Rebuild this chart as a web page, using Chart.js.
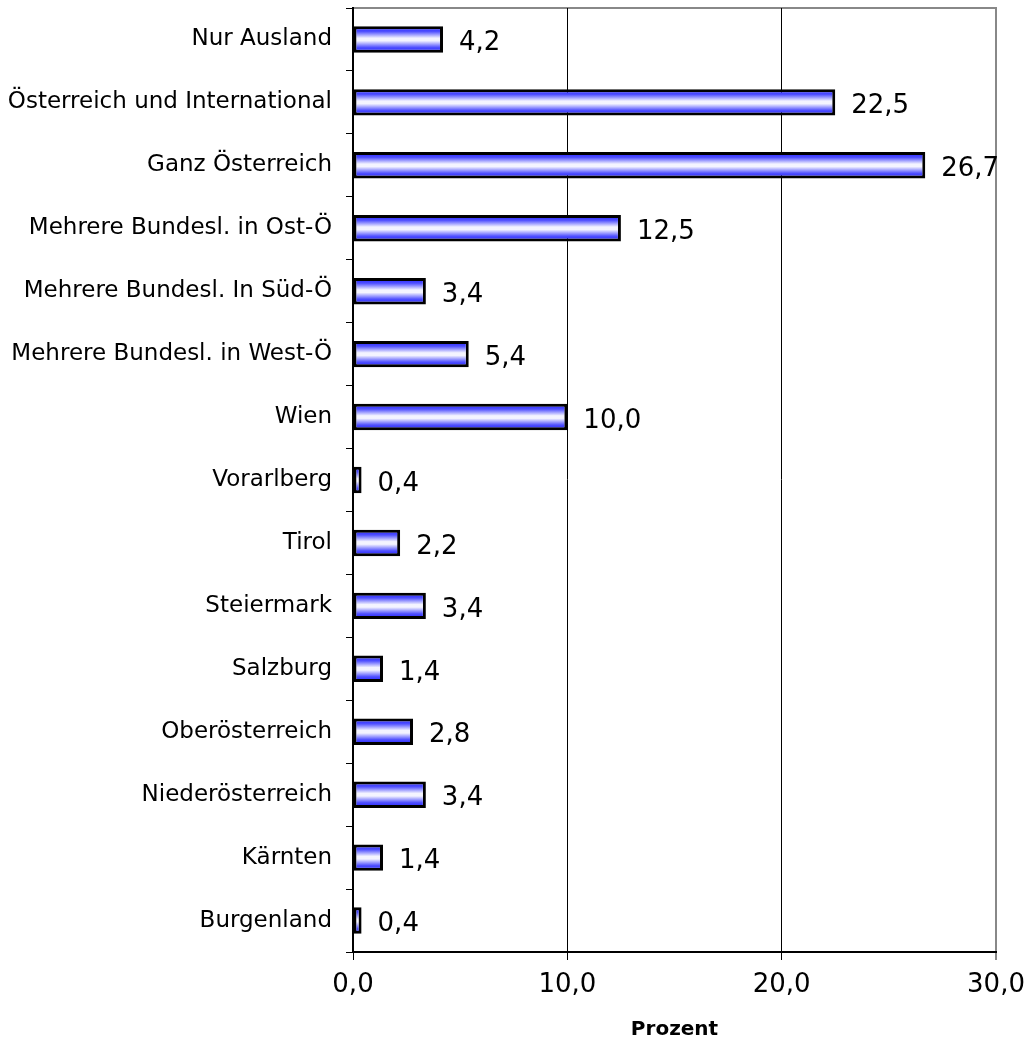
<!DOCTYPE html>
<html>
<head>
<meta charset="utf-8">
<script src="https://cdn.jsdelivr.net/npm/chart.js@4/dist/chart.umd.min.js"></script>
<style>
  html, body { margin: 0; padding: 0; background: #fff; }
  #wrap { width: 1029px; height: 1042px; }
</style>
</head>
<body>
<div id="wrap"><canvas id="myChart" width="1029" height="1042"></canvas></div>
<script>
const labels = [
  'Nur Ausland',
  'Österreich und International',
  'Ganz Österreich',
  'Mehrere Bundesl. in Ost-Ö',
  'Mehrere Bundesl. In Süd-Ö',
  'Mehrere Bundesl. in West-Ö',
  'Wien',
  'Vorarlberg',
  'Tirol',
  'Steiermark',
  'Salzburg',
  'Oberösterreich',
  'Niederösterreich',
  'Kärnten',
  'Burgenland',
];
const values = [4.2, 22.5, 26.7, 12.5, 3.4, 5.4, 10.0, 0.4, 2.2, 3.4, 1.4, 2.8, 3.4, 1.4, 0.4];
const xTicks = [0, 10, 20, 30];

const fmt = v => v.toFixed(1).replace('.', ',');

// vertical gradient per bar, blue edges, white middle
const barGradient = {
  id: 'barGradient',
  beforeDatasetsDraw(chart) {
    const ctx = chart.ctx;
    chart.getDatasetMeta(0).data.forEach(el => {
      const top = el.y - el.height / 2;
      const g = ctx.createLinearGradient(0, top, 0, top + el.height);
      g.addColorStop(0, '#1c1cff');
      g.addColorStop(0.2, '#5050ff');
      g.addColorStop(0.45, '#f4f4ff');
      g.addColorStop(0.55, '#f4f4ff');
      g.addColorStop(0.8, '#5050ff');
      g.addColorStop(1, '#1c1cff');
      el.options.backgroundColor = g;
    });
  }
};

const valueLabels = {
  id: 'valueLabels',
  afterDatasetsDraw(chart) {
    const ctx = chart.ctx;
    ctx.save();
    ctx.font = '26px "DejaVu Sans"';
    ctx.fillStyle = '#000';
    ctx.textAlign = 'left';
    ctx.textBaseline = 'middle';
    chart.getDatasetMeta(0).data.forEach((el, i) => {
      ctx.fillText(fmt(values[i]), el.x + 16, el.y + 4);
    });
    ctx.restore();
  }
};

const plotBorder = {
  id: 'plotBorder',
  beforeDraw(chart) {
    const a = chart.chartArea;
    const ctx = chart.ctx;
    ctx.save();
    ctx.strokeStyle = '#888';
    ctx.lineWidth = 2;
    ctx.beginPath();
    ctx.moveTo(a.left, a.top);
    ctx.lineTo(a.right, a.top);
    ctx.lineTo(a.right, a.bottom);
    ctx.stroke();
    ctx.restore();
  }
};

const data = {
  labels: labels,
  datasets: [{
    data: values,
    backgroundColor: () => '#8080ff',
    borderColor: '#000',
    borderWidth: 3,
    borderSkipped: false,
    categoryPercentage: 1,
    barPercentage: 0.42,
  }],
};

const config = {
  type: 'bar',
  data: data,
  plugins: [plotBorder, barGradient, valueLabels],
  options: {
    indexAxis: 'y',
    responsive: false,
    animation: false,
    layout: { padding: { left: 0, right: 33, top: 8, bottom: 0 } },
    plugins: { legend: { display: false }, tooltip: { enabled: false } },
    scales: {
      x: {
        min: 0,
        max: 30,
        afterBuildTicks: s => { s.ticks = xTicks.map(v => ({ value: v })); },
        afterFit: s => { s.height = 90; s.paddingLeft = 0; s.paddingRight = 0; },
        ticks: {
          callback: v => fmt(v),
          font: { family: 'DejaVu Sans', size: 26 },
          color: '#000',
          padding: 10,
          maxRotation: 0,
        },
        grid: {
          color: c => c.tick && c.tick.value === 30 ? '#888' : '#000',
          lineWidth: c => c.tick && c.tick.value === 30 ? 2 : 1,
          tickLength: 8,
        },
        border: { color: '#000', width: 2 },
        title: {
          display: true,
          text: 'Prozent',
          font: { family: 'DejaVu Sans', size: 20, weight: 'bold' },
          color: '#000',
          padding: { top: 0, bottom: 0 },
        },
      },
      y: {
        afterFit: s => { s.width = 353; s.paddingTop = 0; s.paddingBottom = 0; },
        ticks: {
          font: { family: 'DejaVu Sans', size: 23 },
          color: '#000',
          padding: 14,
        },
        grid: {
          offset: true,
          drawOnChartArea: false,
          color: '#000',
          tickLength: 7,
        },
        border: { color: '#000', width: 2 },
      },
    },
  },
};

const ctx = document.getElementById('myChart');
const myChart = new Chart(ctx, config);
</script>
</body>
</html>
